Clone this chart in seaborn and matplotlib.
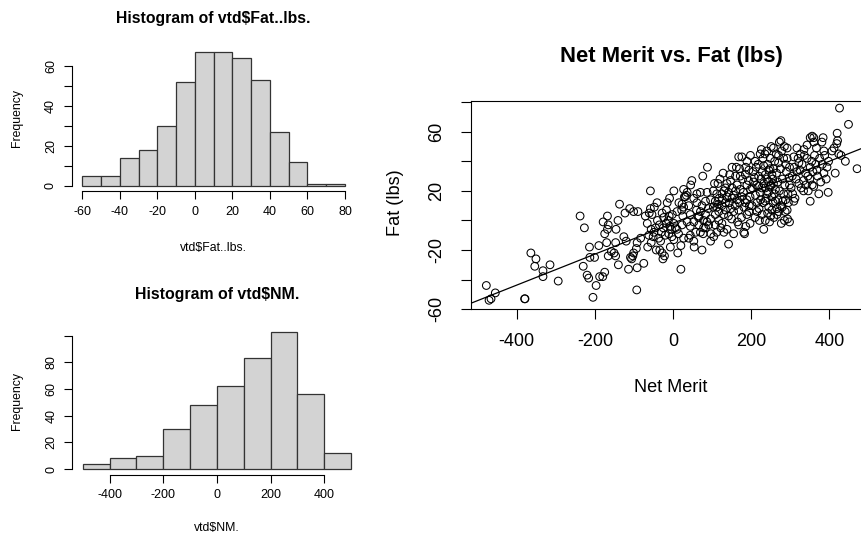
import matplotlib
matplotlib.use("Agg")
import matplotlib.pyplot as plt
import seaborn as sns

# histogram bins and counts
fat_edges = [-60, -50, -40, -30, -20, -10, 0, 10, 20, 30, 40, 50, 60, 70, 80]
fat_counts = [5, 5, 14, 18, 30, 52, 67, 67, 64, 53, 27, 12, 1, 1]
nm_edges = [-500, -400, -300, -200, -100, 0, 100, 200, 300, 400, 500]
nm_counts = [4, 8, 10, 30, 48, 62, 83, 103, 56, 12]

# scatter points (Net Merit, Fat lbs), grouped by Net Merit bin
net_merit = [
    -478, -471, -466, -455,
    -380, -379, -364, -351, -354, -333, -333, -315,
    -294, -238, -227, -230, -220, -216, -214, -213, -201, -205,
    -197, -190, -188, -180, -175, -179, -168, -166, -175, -170,
    -168, -146, -141, -137, -147, -151, -147, -140, -166, -126,
    -123, -111, -120, -114, -109, -106, -103, -101, -101, -158,
    -94, -92, -90, -92, -93, -75, -83, -65,
    -71, -66, -58, -58, -61, -54, -48, -41, -56, -49, -56, -51, -37, -32,
    -43, -34, -28, -26, -22, -24, -17, -15, -9, -4, -11, -7, -3, -2,
    -62, -45, -40, -35, -30, -25, -20, -18, -12, -8, -28, -10,
    2, 22, 23, 29, 34, 48, 45, 88, 76, 60, 65, 36, 44, 40, 54, 70, 74, 77,
    83, 87, 97, 20, 20, 12, 6, 10, 2, 2, 14,
    23, 53, 66, 78, 91, 96, 27, 44, 53, 78, 66, 10, 25, 27, 40, 70, 83,
    96, 61, 74, 83, 96, 36, 61, 70, 87, 27, 31, 53, 44, 15, 58, 90,
    103, 112, 125, 138, 142, 151, 164, 172, 176, 164,
    151, 189, 189, 198, 185, 172, 160, 147, 138, 134,
    128, 151, 162, 170, 168, 176, 198, 189, 108, 117,
    125, 112, 104, 108, 117, 130, 112, 125, 134, 147,
    155, 168, 181, 194, 108, 118, 115, 142, 181, 183,
    130, 138, 155, 168, 189, 197, 142, 159, 134, 155,
    180, 193, 197, 178, 194, 120, 106, 145, 186, 103,
    122, 165, 175, 185, 150, 160, 130, 195, 170, 144,
    116, 186, 126,
    276, 272, 251, 257, 292, 292, 270, 249, 270, 298,
    223, 213, 232, 245, 257, 253, 228, 236, 240, 219,
    245, 232, 219, 236, 249, 257, 262, 240, 223, 211,
    206, 298, 283, 275, 270, 292, 293, 253, 266, 279,
    287, 298, 215, 228, 236, 247, 232, 250, 221, 202,
    215, 224, 236, 245, 256, 262, 253, 266, 281, 288,
    205, 210, 218, 225, 230, 235, 242, 248, 255, 260,
    265, 268, 272, 275, 280, 283, 286, 290, 294, 297,
    203, 208, 214, 227, 238, 244, 259, 264, 278, 285,
    288, 240, 226, 220, 242, 258, 277, 210, 285, 230,
    268, 250, 295,
    356, 360, 351, 384, 381, 360, 343, 367, 386, 317,
    394, 386, 368, 351, 336, 343, 326, 309, 322, 317,
    339, 360, 373, 397, 351, 334, 309, 322, 334, 305,
    310, 315, 320, 325, 330, 335, 340, 345, 350, 355,
    358, 362, 365, 370, 375, 378, 382, 388, 392, 398,
    302, 306, 312, 328, 346, 356,
    426, 449, 420, 421, 419, 424, 441, 471, 415, 407, 412, 430,
]
fat_lbs = [
    -44, -54, -53, -49,
    -53, -53, -22, -26, -31, -34, -38, -30,
    -41, 3, -5, -31, -37, -39, -18, -25, -25, -52,
    -44, -17, -38, -38, -35, -1, 3, -3, -9, -15,
    -6, -6, 0, 11, -15, -22, -24, -30, -24, -11,
    5, 8, -14, -33, -25, -26, -24, -22, 6, -21,
    -19, -15, 6, -32, -47, -29, -12, -18,
    3, -2, 20, 8, 5, 4, 9, 12, -6, -8, -15, -11, -12, -14,
    -20, -20, -22, -26, -24, 2, 7, 12, 15, -6, -9, -18, -11, 4,
    -10, -5, 0, -3, -8, -5, -10, -2, 0, -4, 5, 3,
    20, 7, 11, 16, 17, 27, 24, 36, 30, 7, 2, -1, -4, -12, -18, -8, -20, -9,
    -5, -1, -9, -33, -17, -22, -5, -6, -2, -13, -9,
    -3, -1, 3, 0, -3, -14, -12, -10, -14, -5, -3, 6, 3, 9, 10, 6, 4,
    1, 12, 10, 13, 14, 19, 18, 19, 19, 21, 16, 15, 4, 12, -8, 8,
    20, 18, 18, 16, 19, 22, 24, 21, 16, 14,
    15, 14, 24, 21, 31, 30, 30, 27, 25, 22,
    32, 36, 36, 35, 43, 43, 44, 40, -3, 0,
    -2, -8, -11, 4, 6, 4, 9, 10, 7, 8,
    6, 7, 9, 6, 13, 15, 25, -16, -8, -9,
    -8, -6, -9, -3, 4, -2, 3, 10, 12, 17,
    19, 27, 16, 28, 34, 28, 25, 31, 36, 9,
    -5, -1, 2, 12, 1, 20, 20, 10, 12, 12,
    11, -4, 14,
    54, 53, 50, 49, 49, 42, 44, 42, 39, 36,
    45, 36, 37, 34, 35, 31, 33, 31, 28, 30,
    26, 25, 23, 22, 23, 25, 21, 18, 19, 17,
    26, 24, 18, 10, 6, 7, 1, 16, 8, 9,
    6, -1, 6, 4, 0, -1, -6, 3, 0, 10,
    12, 14, 13, 9, 12, 13, 7, 4, 13, 14,
    33, 40, 38, 28, 42, 45, 38, 35, 28, 40,
    32, 26, 20, 35, 28, 42, 24, 33, 18, 29,
    22, 29, 24, 22, 15, 19, 18, 45, 47, 50,
    38, 47, 48, 8, 5, 2, -2, 2, 0, 12,
    14, 24, 12,
    57, 56, 56, 56, 53, 53, 51, 49, 47, 49,
    36, 32, 34, 36, 44, 42, 45, 43, 39, 33,
    32, 23, 18, 19, 13, 20, 13, 25, 27, 30,
    36, 28, 42, 34, 38, 48, 24, 30, 28, 40,
    33, 44, 38, 30, 42, 26, 38, 44, 28, 40,
    22, 18, 15, 22, 20, 24,
    76, 65, 59, 54, 52, 45, 40, 35, 32, 47, 49, 44,
]

W, H = 862, 535

sns.set_style("ticks", {
    "axes.edgecolor": "black", "xtick.color": "black", "ytick.color": "black",
    "text.color": "black", "axes.labelcolor": "black",
})
plt.rcParams["font.family"] = ["Liberation Sans", "DejaVu Sans"]
plt.rcParams["axes.unicode_minus"] = False


def box(l, t, r, b):
    # pixel box -> figure fraction rect
    return [l / W, 1 - b / H, (r - l) / W, (b - t) / H]


def label(x, y, s, **kw):
    fig.text(x / W, 1 - y / H, s, ha="center", va="center", **kw)


fig = plt.figure(figsize=(W / 100, H / 100), dpi=100)
fig.patch.set_facecolor("white")

ax1 = fig.add_axes(box(71.8, 47.0, 355.5, 191.3))
ax2 = fig.add_axes(box(72.1, 326.1, 361.9, 474.5))
ax3 = fig.add_axes(box(470.7, 100.7, 881.7, 309.3))

hist_kw = dict(color="#d3d3d3", edgecolor="#333333", linewidth=0.9, alpha=1)
for ax, edges, counts in ((ax1, fat_edges, fat_counts), (ax2, nm_edges, nm_counts)):
    mids = [(a + b) / 2 for a, b in zip(edges[:-1], edges[1:])]
    sns.histplot(x=mids, weights=counts, bins=list(edges), ax=ax, **hist_kw)
    ax.set_xlabel("")
    ax.set_ylabel("")
    ax.spines[["top", "right"]].set_visible(False)
    ax.tick_params(length=5.5, width=0.8, labelsize=9, pad=5.2)
    ax.tick_params(axis="y", labelrotation=90)

ax1.set_xlim(-65.6, 85.6)
ax1.set_ylim(-2.68, 69.68)
ax1.set_xticks(range(-60, 81, 20))
ax1.set_yticks(range(0, 61, 10), ["0", "", "20", "", "40", "", "60"])
ax1.spines["left"].set_bounds(0, 60)
ax1.spines["bottom"].set_bounds(-60, 80)

ax2.set_xlim(-540, 540)
ax2.set_ylim(-4.12, 107.12)
ax2.set_xticks(range(-400, 401, 200))
ax2.set_yticks(range(0, 101, 20), ["0", "20", "40", "60", "80", ""])
ax2.spines["left"].set_bounds(0, 100)
ax2.spines["bottom"].set_bounds(-400, 400)

for ax in (ax1, ax2):
    for sp in ax.spines.values():
        sp.set_linewidth(0.8)
    plt.setp(ax.get_yticklabels(), va="center")

# scatter with fitted line
ax3.set_xlim(-518, 534)
ax3.set_ylim(-60.1, 81)
sns.regplot(
    x=net_merit, y=fat_lbs, ax=ax3, ci=None, truncate=False, color="black",
    scatter_kws=dict(s=31, facecolors="none", edgecolors="black",
                     linewidths=0.75, alpha=1),
    line_kws=dict(color="black", linewidth=0.9),
)
ax3.set_xlim(-518, 534)
ax3.set_ylim(-60.1, 81)
ax3.set_xticks(range(-400, 401, 200))
ax3.set_yticks(range(-60, 81, 20), ["-60", "", "-20", "", "20", "", "60", ""])
ax3.tick_params(length=7.2, width=0.8, labelsize=13)
ax3.tick_params(axis="x", pad=10)
ax3.tick_params(axis="y", labelrotation=90, pad=11)
plt.setp(ax3.get_yticklabels(), va="center")
for sp in ax3.spines.values():
    sp.set_visible(True)
    sp.set_linewidth(0.8)

label(213, 18, "Histogram of vtd$Fat..lbs.", size=11.3, weight="bold")
label(213, 248, "vtd$Fat..lbs.", size=8.8)
label(17, 118, "Frequency", size=8.8, rotation=90)
label(216.7, 295, "Histogram of vtd$NM.", size=11.4, weight="bold")
label(216.7, 528, "vtd$NM.", size=8.8)
label(17, 401, "Frequency", size=8.8, rotation=90)
label(671, 57, "Net Merit vs. Fat (lbs)", size=15.8, weight="bold")
label(671, 387, "Net Merit", size=13.1)
label(395.7, 203, "Fat (lbs)", size=13.1, rotation=90)

fig.savefig("out.png", dpi=100)
